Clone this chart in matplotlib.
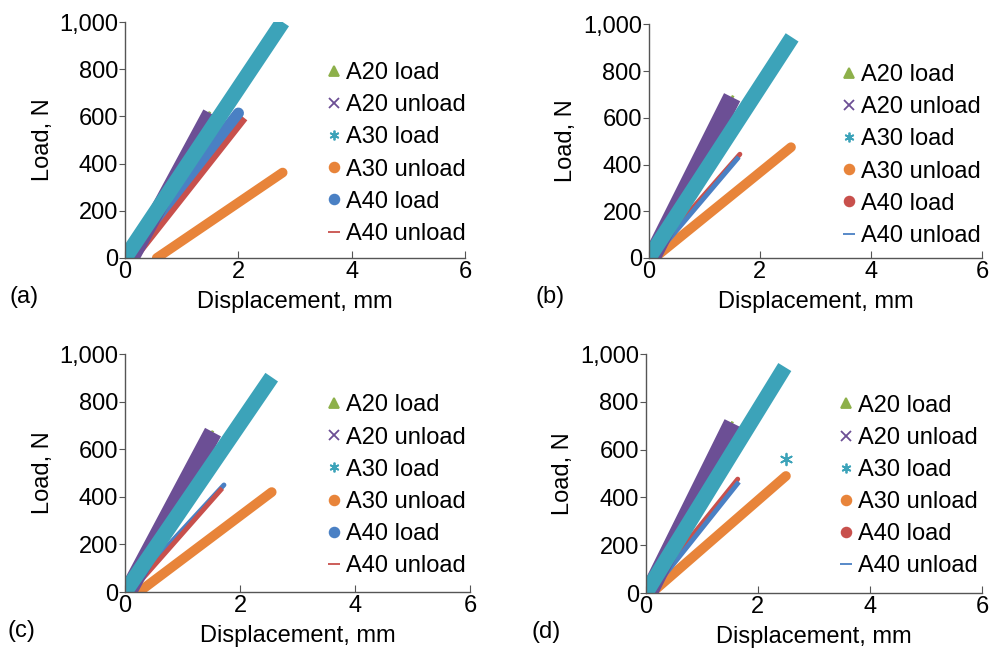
import matplotlib.pyplot as plt
from matplotlib.lines import Line2D
from matplotlib.ticker import FuncFormatter

plt.rcParams['font.family'] = ['Liberation Sans', 'DejaVu Sans']

# ---------------- data (start / end of each band) ----------------
names = ['A20 load', 'A20 unload', 'A30 load', 'A30 unload', 'A40 load', 'A40 unload']

# panel (a)
a_x = {'A20 load': [0.05, 1.5], 'A20 unload': [0.12, 1.5], 'A30 load': [0.0, 2.78],
       'A30 unload': [0.56, 2.78], 'A40 load': [0.0, 2.0], 'A40 unload': [0.12, 2.08]}
a_y = {'A20 load': [0, 620], 'A20 unload': [0, 614], 'A30 load': [0, 1000],
       'A30 unload': [0, 362], 'A40 load': [0, 614], 'A40 unload': [0, 598]}
# panel (b)
b_x = {'A20 load': [0.05, 1.52], 'A20 unload': [0.05, 1.5], 'A30 load': [0.0, 2.58],
       'A30 unload': [0.1, 2.56], 'A40 load': [0.0, 1.64], 'A40 unload': [0.08, 1.62]}
b_y = {'A20 load': [0, 695], 'A20 unload': [0, 688], 'A30 load': [0, 944],
       'A30 unload': [0, 474], 'A40 load': [0, 444], 'A40 unload': [0, 432]}
# panel (c)
c_x = {'A20 load': [0.05, 1.53], 'A20 unload': [0.05, 1.53], 'A30 load': [0.0, 2.55],
       'A30 unload': [0.24, 2.55], 'A40 load': [0.0, 1.72], 'A40 unload': [0.1, 1.69]}
c_y = {'A20 load': [0, 678], 'A20 unload': [0, 672], 'A30 load': [0, 903],
       'A30 unload': [0, 420], 'A40 load': [0, 450], 'A40 unload': [0, 436]}
# panel (d)
d_x = {'A20 load': [0.05, 1.55], 'A20 unload': [0.05, 1.55], 'A30 load': [0.0, 2.48],
       'A30 unload': [0.1, 2.5], 'A40 load': [0.0, 1.64], 'A40 unload': [0.08, 1.66]}
d_y = {'A20 load': [0, 718], 'A20 unload': [0, 711], 'A30 load': [0, 946],
       'A30 unload': [0, 490], 'A40 load': [0, 477], 'A40 unload': [0, 465]}
d_outlier_x = [2.5]
d_outlier_y = [561]

green = '#8db04a'
purple = '#6c4f95'
cyan = '#3ca3b9'
orange = '#e8843a'
blue = '#4a80c4'
red = '#c8504c'

# A40 colours swap between panels
colors_ad = {'A20 load': green, 'A20 unload': purple, 'A30 load': cyan,
             'A30 unload': orange, 'A40 load': blue, 'A40 unload': red}
colors_bd = dict(colors_ad)
colors_bd['A40 load'] = red
colors_bd['A40 unload'] = blue

markers = {'A20 load': '^', 'A20 unload': 'x', 'A30 load': (6, 2, 0),
           'A30 unload': 'o', 'A40 load': 'o', 'A40 unload': '_'}

fig = plt.figure(figsize=(9.89, 6.51), dpi=100)

positions = [[0.1264, 0.6037, 0.344, 0.3625],
             [0.656, 0.6037, 0.337, 0.359],
             [0.1264, 0.0906, 0.349, 0.3655],
             [0.653, 0.089, 0.340, 0.367]]
legend_x = [0.57, 0.556, 0.562, 0.55]
panels = [(a_x, a_y, colors_ad, '(a)'), (b_x, b_y, colors_bd, '(b)'),
          (c_x, c_y, colors_ad, '(c)'), (d_x, d_y, colors_bd, '(d)')]
widths_thin = {'A20 load': 2, 'A20 unload': 13, 'A30 load': 11,
               'A30 unload': 7, 'A40 load': 3.5, 'A40 unload': 3.5}
widths_a = dict(widths_thin)
widths_a['A40 load'] = 8
widths_a['A40 unload'] = 8
widths_a['A20 unload'] = 11

for i, (px, py, cols, tag) in enumerate(panels):
    ax = fig.add_axes(positions[i])
    ws = widths_a if i == 0 else widths_thin
    order = ['A30 unload', 'A40 unload', 'A40 load', 'A20 load', 'A20 unload', 'A30 load']
    if i != 0:
        order = ['A30 unload', 'A40 load', 'A40 unload', 'A20 load', 'A20 unload', 'A30 load']
    for n in order:
        cap = 'round' if n in ('A30 unload', 'A40 load') else 'butt'
        ax.plot(px[n], py[n], color=cols[n], lw=ws[n], solid_capstyle=cap)
    if i == 3:
        ax.scatter(d_outlier_x, d_outlier_y, marker=(6, 2, 0), s=70, color=cyan, lw=1.3)

    ax.set_xlim(0, 6)
    ax.set_ylim(0, 1000)
    ax.set_xticks([0, 2, 4, 6])
    ax.set_yticks([0, 200, 400, 600, 800, 1000])
    ax.yaxis.set_major_formatter(FuncFormatter(lambda v, p: f'{int(v):,}'))
    for s in ['top', 'right']:
        ax.spines[s].set_visible(False)
    for s in ['left', 'bottom']:
        ax.spines[s].set_color('#555555')
        ax.spines[s].set_linewidth(1.0)
    ax.tick_params(axis='x', direction='in', length=5, color='#555555', labelsize=17, pad=2)
    ax.tick_params(axis='y', direction='out', length=4, color='#555555', labelsize=17, pad=1)
    ax.set_xlabel('Displacement, mm', fontsize=17, labelpad=6)
    ax.set_ylabel('Load, N', fontsize=17, labelpad=4)

    handles = [Line2D([], [], ls='none', marker=markers[n], color=cols[n],
                      markersize=7 if markers[n] != '_' else 9, mew=1.3) for n in names]
    ax.legend(handles, names, loc='upper left', bbox_to_anchor=(legend_x[i], 0.87),
              frameon=False, fontsize=17, handlelength=0.5, handletextpad=0.25,
              labelspacing=0.43, borderaxespad=0)
    ax.text(-0.34, -0.165, tag, transform=ax.transAxes, fontsize=17, ha='left', va='center')

plt.savefig('out.png', dpi=100)
